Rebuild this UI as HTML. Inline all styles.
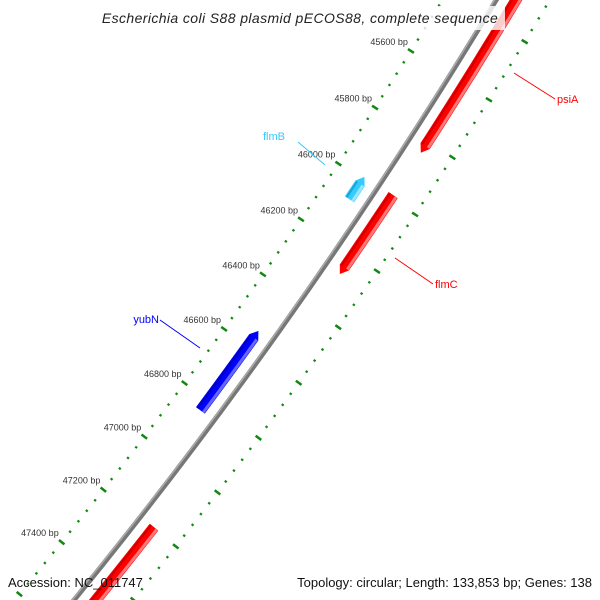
<!DOCTYPE html>
<html><head><meta charset="utf-8"><style>
html,body{margin:0;padding:0;background:#fff;width:600px;height:600px;overflow:hidden;}
svg{display:block;font-family:"Liberation Sans",sans-serif;}
</style></head><body>
<svg id="map" width="600" height="600" viewBox="0 0 600 600">
<g id="ticks"></g>
<g id="backbone"></g>
<g id="features"></g>
<g id="labels"></g>
<rect x="95" y="6" width="410" height="24" fill="#fff" opacity="0.8"/>
<text x="300" y="23" text-anchor="middle" font-style="italic" font-size="14" letter-spacing="0.4" fill="#222">Escherichia coli S88 plasmid pECOS88, complete sequence</text>
<text x="8" y="587" font-size="13" fill="#111">Accession: NC_011747</text>
<text x="592" y="587" text-anchor="end" font-size="13" fill="#111">Topology: circular; Length: 133,853 bp; Genes: 138</text>
</svg>
<script>
const featureNames = ["psiA","flmC","flmB","yubN","gene-lower"];
const featureStarts = [45000,45988,45990,46545,47195];
const featureEnds = [45839,46269,46070,46837,48000];
const featureStrand = [1,1,-1,-1,1];
const featureColors = ["#ff0000","#ff0000","#33ccff","#0000ff","#ff0000"];
const labelNames = ["psiA","flmC","flmB","yubN"];
const majorTickStart = 45000;
const majorTickEnd = 48000;
const tickStep = 40;
const labelStep = 200;
const labelFirst = 45600;
const labelLast = 47400;

const NS="http://www.w3.org/2000/svg";
const CX=-3909.8, CY=-2651, R=5142;
const A0=32.02, K=6.78/1800;
function ang(bp){return (A0+(bp-45600)*K)*Math.PI/180;}
function pt(bp,r){const a=ang(bp);return [CX+r*Math.cos(a),CY+r*Math.sin(a)];}
function el(tag,attrs,parent){const e=document.createElementNS(NS,tag);for(const k in attrs)e.setAttribute(k,attrs[k]);parent.appendChild(e);return e;}
function arcPath(b1,b2,r){const p1=pt(b1,r),p2=pt(b2,r);return `M${p1[0]},${p1[1]} A${r},${r} 0 0 1 ${p2[0]},${p2[1]}`;}

const bb=document.getElementById('backbone');
let e=el('path',{d:arcPath(44500,48500,R),stroke:'#777',"stroke-width":5,fill:'none'},bb);


e=el('path',{d:arcPath(44500,48500,R-1.5),stroke:'#aaa',"stroke-width":1.5,fill:'none'},bb);



const tg=document.getElementById('ticks');
for(let bp=majorTickStart;bp<=majorTickEnd;bp+=tickStep){
  const major=((bp-45600)%labelStep)===0;
  const len=major?3.5:1.2;
  for(const rr of [R-46,R+46]){
    const a=pt(bp,rr-len),b=pt(bp,rr+len);
    const t=el('line',{x1:a[0],y1:a[1],x2:b[0],y2:b[1],stroke:'#118811',"stroke-width":major?2.5:2.2},tg);
    
    
  }
  if(major && bp>=labelFirst && bp<=labelLast){
    const p=pt(bp,R-46);
    const lb=el('text',{x:p[0]-3,y:p[1]-6,"text-anchor":"end","font-size":9,fill:'#333'},tg);
    lb.textContent=bp+' bp';
    
    
  }
}

const fg=document.getElementById('features');
function shade(c){return c==="#ff0000"?"#ff7777":c==="#0000ff"?"#6666ff":"#99e6ff";}
function dark(c){return c==="#ff0000"?"#cc0000":c==="#0000ff"?"#0000bb":"#1aa3d6";}
for(let i=0;i<featureNames.length;i++){
  const outer=featureStrand[i]>0;
  const rc=outer?R+17:R-17, w=11;
  const s=featureStarts[i], en=featureEnds[i];
  const tipLen=8/(R*K*Math.PI/180);
  let pts;
  const ri=rc-w/2, ro=rc+w/2;
  if(outer){
    const bt=en-tipLen;
    const p1=pt(s,ri),p2=pt(bt,ri),tip=pt(en,rc),p3=pt(bt,ro),p4=pt(s,ro);
    pts=`M${p1} A${ri},${ri} 0 0 1 ${p2} L${tip} L${p3} A${ro},${ro} 0 0 0 ${p4} Z`;
  } else {
    const bt=s+tipLen;
    const tip=pt(s,rc),p1=pt(bt,ri),p2=pt(en,ri),p3=pt(en,ro),p4=pt(bt,ro);
    pts=`M${tip} L${p1} A${ri},${ri} 0 0 1 ${p2} L${p3} A${ro},${ro} 0 0 0 ${p4} Z`;
  }
  const f=el('path',{d:pts,fill:featureColors[i]},fg);
  
  
  const hl=el('path',{d:arcPath(s+(outer?0:tipLen),en-(outer?tipLen:0),ro-2),stroke:shade(featureColors[i]),"stroke-width":3,fill:'none'},fg);
  
  
  const dk=el('path',{d:arcPath(s+(outer?0:tipLen),en-(outer?tipLen:0),ri+2),stroke:dark(featureColors[i]),"stroke-width":2,fill:'none'},fg);
  
  
}

const lg=document.getElementById('labels');
const labelDefs=[[514,73,555,99,557,103,'start','#ff0000'],[395,258,433,284,435,288,'start','#ff0000'],[325,165,298,142,285,140,'end','#33ccff'],[200,348,160,320,159,323,'end','#0000ff']];
labelDefs.forEach((d,i)=>{
  const l=el('line',{x1:d[0],y1:d[1],x2:d[2],y2:d[3],stroke:d[7],"stroke-width":1},lg);
  
  
  const t=el('text',{x:d[4],y:d[5],"text-anchor":d[6],"font-size":11,fill:d[7]},lg);
  t.textContent=labelNames[i];
  
  
});
</script>
</body></html>
